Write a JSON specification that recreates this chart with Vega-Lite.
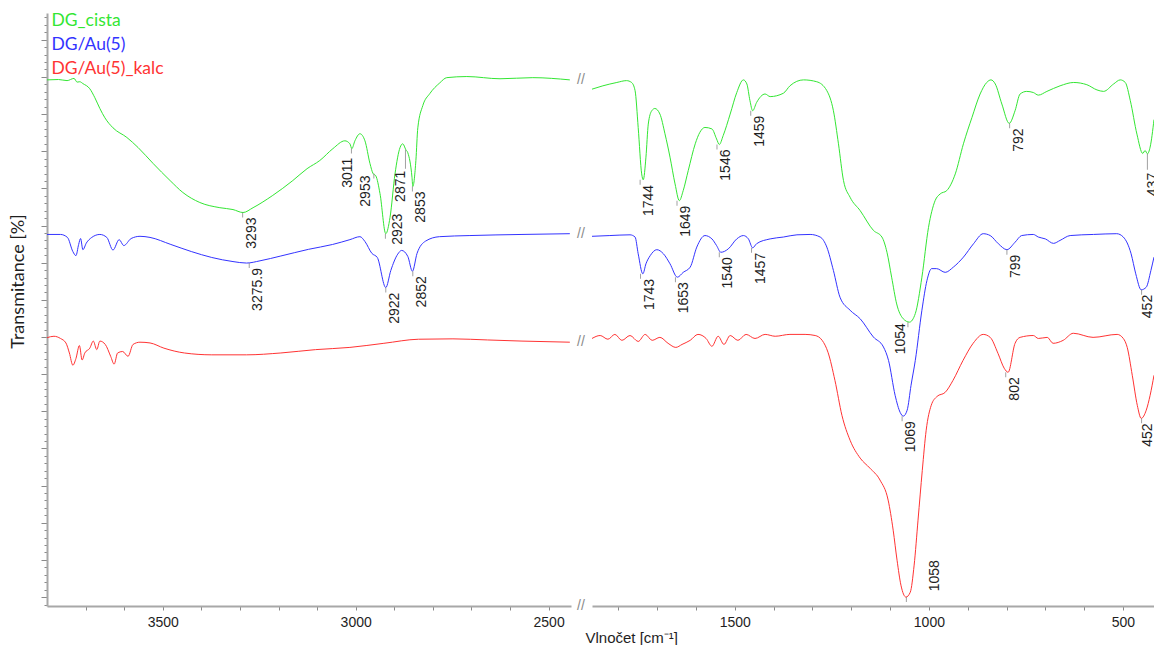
{
  "$schema": "https://vega.github.io/schema/vega-lite/v6.json",
  "background": "white",
  "padding": {"left": 9, "top": 12, "right": 0, "bottom": 0},
  "spacing": 21,
  "bounds": "flush",
  "config": {
    "view": {"stroke": null},
    "axis": {"grid": false, "domainColor": "#a8a8a8", "domainWidth": 2, "tickColor": "#8a8a8a", "labelFont": "Liberation Sans", "labelFontSize": 14, "labelColor": "#1e1e1e", "titleFont": "Liberation Sans", "titleFontWeight": "normal", "titleColor": "#1e1e1e"}
  },
  "datasets": {
    "spectra": [
      {"series":"DG_cista","wn":3800,"T":139.2},{"series":"DG_cista","wn":3770,"T":139.3},{"series":"DG_cista","wn":3748,"T":139.0},{"series":"DG_cista","wn":3730,"T":139.6},{"series":"DG_cista","wn":3722,"T":138.6},{"series":"DG_cista","wn":3715,"T":138.7},{"series":"DG_cista","wn":3707,"T":138.2},{"series":"DG_cista","wn":3689,"T":136.8},{"series":"DG_cista","wn":3676,"T":134.4},{"series":"DG_cista","wn":3663,"T":131.5},{"series":"DG_cista","wn":3650,"T":129.0},{"series":"DG_cista","wn":3629,"T":126.3},{"series":"DG_cista","wn":3593,"T":123.7},{"series":"DG_cista","wn":3564,"T":121.0},{"series":"DG_cista","wn":3525,"T":116.7},{"series":"DG_cista","wn":3481,"T":112.1},{"series":"DG_cista","wn":3448,"T":108.9},{"series":"DG_cista","wn":3404,"T":106.2},{"series":"DG_cista","wn":3352,"T":104.8},{"series":"DG_cista","wn":3318,"T":104.3},{"series":"DG_cista","wn":3292,"T":103.5},{"series":"DG_cista","wn":3266,"T":104.8},{"series":"DG_cista","wn":3215,"T":108.1},{"series":"DG_cista","wn":3163,"T":112.1},{"series":"DG_cista","wn":3126,"T":115.3},{"series":"DG_cista","wn":3093,"T":117.5},{"series":"DG_cista","wn":3059,"T":120.7},{"series":"DG_cista","wn":3028,"T":122.8},{"series":"DG_cista","wn":3015,"T":122.0},{"series":"DG_cista","wn":3010,"T":120.7},{"series":"DG_cista","wn":3002,"T":122.8},{"series":"DG_cista","wn":2989,"T":124.7},{"series":"DG_cista","wn":2976,"T":122.8},{"series":"DG_cista","wn":2963,"T":116.7},{"series":"DG_cista","wn":2955,"T":114.0},{"series":"DG_cista","wn":2948,"T":113.4},{"series":"DG_cista","wn":2937,"T":108.6},{"series":"DG_cista","wn":2922,"T":97.8},{"series":"DG_cista","wn":2911,"T":102.2},{"series":"DG_cista","wn":2898,"T":114.0},{"series":"DG_cista","wn":2885,"T":121.0},{"series":"DG_cista","wn":2878,"T":122.0},{"series":"DG_cista","wn":2870,"T":120.4},{"series":"DG_cista","wn":2865,"T":119.6},{"series":"DG_cista","wn":2854,"T":112.9},{"series":"DG_cista","wn":2852,"T":110.5},{"series":"DG_cista","wn":2844,"T":117.5},{"series":"DG_cista","wn":2839,"T":126.3},{"series":"DG_cista","wn":2826,"T":132.3},{"series":"DG_cista","wn":2808,"T":135.5},{"series":"DG_cista","wn":2782,"T":138.4},{"series":"DG_cista","wn":2764,"T":139.8},{"series":"DG_cista","wn":2712,"T":140.1},{"series":"DG_cista","wn":2626,"T":139.5},{"series":"DG_cista","wn":2541,"T":139.8},{"series":"DG_cista","wn":2445,"T":139.2},
      {"series":"DG/Au(5)","wn":3800,"T":97.6},{"series":"DG/Au(5)","wn":3765,"T":97.6},{"series":"DG/Au(5)","wn":3747,"T":96.8},{"series":"DG/Au(5)","wn":3733,"T":93.0},{"series":"DG/Au(5)","wn":3725,"T":91.9},{"series":"DG/Au(5)","wn":3718,"T":94.9},{"series":"DG/Au(5)","wn":3713,"T":96.5},{"series":"DG/Au(5)","wn":3707,"T":93.5},{"series":"DG/Au(5)","wn":3698,"T":95.3},{"series":"DG/Au(5)","wn":3684,"T":96.8},{"series":"DG/Au(5)","wn":3663,"T":97.6},{"series":"DG/Au(5)","wn":3645,"T":96.8},{"series":"DG/Au(5)","wn":3629,"T":93.4},{"series":"DG/Au(5)","wn":3613,"T":96.2},{"series":"DG/Au(5)","wn":3601,"T":94.6},{"series":"DG/Au(5)","wn":3582,"T":96.5},{"series":"DG/Au(5)","wn":3559,"T":97.1},{"series":"DG/Au(5)","wn":3533,"T":96.8},{"series":"DG/Au(5)","wn":3479,"T":94.9},{"series":"DG/Au(5)","wn":3426,"T":93.0},{"series":"DG/Au(5)","wn":3373,"T":91.4},{"series":"DG/Au(5)","wn":3318,"T":90.3},{"series":"DG/Au(5)","wn":3283,"T":89.9},{"series":"DG/Au(5)","wn":3248,"T":90.5},{"series":"DG/Au(5)","wn":3194,"T":91.8},{"series":"DG/Au(5)","wn":3122,"T":93.6},{"series":"DG/Au(5)","wn":3060,"T":94.9},{"series":"DG/Au(5)","wn":3015,"T":96.2},{"series":"DG/Au(5)","wn":2989,"T":97.0},{"series":"DG/Au(5)","wn":2976,"T":95.7},{"series":"DG/Au(5)","wn":2958,"T":92.5},{"series":"DG/Au(5)","wn":2944,"T":91.4},{"series":"DG/Au(5)","wn":2922,"T":83.3},{"series":"DG/Au(5)","wn":2909,"T":87.9},{"series":"DG/Au(5)","wn":2891,"T":92.3},{"series":"DG/Au(5)","wn":2881,"T":93.3},{"series":"DG/Au(5)","wn":2865,"T":91.7},{"series":"DG/Au(5)","wn":2853,"T":87.7},{"series":"DG/Au(5)","wn":2841,"T":92.5},{"series":"DG/Au(5)","wn":2819,"T":95.8},{"series":"DG/Au(5)","wn":2783,"T":97.0},{"series":"DG/Au(5)","wn":2704,"T":97.3},{"series":"DG/Au(5)","wn":2569,"T":97.6},{"series":"DG/Au(5)","wn":2445,"T":97.8},
      {"series":"DG/Au(5)_kalc","wn":3800,"T":69.8},{"series":"DG/Au(5)_kalc","wn":3782,"T":70.2},{"series":"DG/Au(5)_kalc","wn":3765,"T":69.6},{"series":"DG/Au(5)_kalc","wn":3751,"T":68.4},{"series":"DG/Au(5)_kalc","wn":3742,"T":65.7},{"series":"DG/Au(5)_kalc","wn":3733,"T":62.4},{"series":"DG/Au(5)_kalc","wn":3725,"T":64.2},{"series":"DG/Au(5)_kalc","wn":3716,"T":67.7},{"series":"DG/Au(5)_kalc","wn":3709,"T":63.8},{"series":"DG/Au(5)_kalc","wn":3702,"T":65.7},{"series":"DG/Au(5)_kalc","wn":3689,"T":67.0},{"series":"DG/Au(5)_kalc","wn":3680,"T":68.9},{"series":"DG/Au(5)_kalc","wn":3671,"T":66.6},{"series":"DG/Au(5)_kalc","wn":3663,"T":68.9},{"series":"DG/Au(5)_kalc","wn":3649,"T":68.0},{"series":"DG/Au(5)_kalc","wn":3635,"T":64.8},{"series":"DG/Au(5)_kalc","wn":3626,"T":62.7},{"series":"DG/Au(5)_kalc","wn":3617,"T":65.7},{"series":"DG/Au(5)_kalc","wn":3604,"T":66.1},{"series":"DG/Au(5)_kalc","wn":3590,"T":64.8},{"series":"DG/Au(5)_kalc","wn":3577,"T":68.0},{"series":"DG/Au(5)_kalc","wn":3559,"T":68.6},{"series":"DG/Au(5)_kalc","wn":3533,"T":68.4},{"series":"DG/Au(5)_kalc","wn":3497,"T":67.0},{"series":"DG/Au(5)_kalc","wn":3444,"T":65.7},{"series":"DG/Au(5)_kalc","wn":3373,"T":65.2},{"series":"DG/Au(5)_kalc","wn":3283,"T":65.2},{"series":"DG/Au(5)_kalc","wn":3194,"T":65.7},{"series":"DG/Au(5)_kalc","wn":3104,"T":66.6},{"series":"DG/Au(5)_kalc","wn":3015,"T":67.2},{"series":"DG/Au(5)_kalc","wn":2927,"T":68.3},{"series":"DG/Au(5)_kalc","wn":2837,"T":69.4},{"series":"DG/Au(5)_kalc","wn":2748,"T":69.5},{"series":"DG/Au(5)_kalc","wn":2658,"T":69.2},{"series":"DG/Au(5)_kalc","wn":2569,"T":68.9},{"series":"DG/Au(5)_kalc","wn":2445,"T":68.6},
      {"series":"DG_cista","wn":1868,"T":136.7},{"series":"DG_cista","wn":1840,"T":137.6},{"series":"DG_cista","wn":1804,"T":138.5},{"series":"DG_cista","wn":1779,"T":139.0},{"series":"DG_cista","wn":1766,"T":138.5},{"series":"DG_cista","wn":1757,"T":136.3},{"series":"DG_cista","wn":1749,"T":126.4},{"series":"DG_cista","wn":1740,"T":113.9},{"series":"DG_cista","wn":1736,"T":112.3},{"series":"DG_cista","wn":1729,"T":118.4},{"series":"DG_cista","wn":1723,"T":127.3},{"series":"DG_cista","wn":1714,"T":130.9},{"series":"DG_cista","wn":1706,"T":131.5},{"series":"DG_cista","wn":1693,"T":130.0},{"series":"DG_cista","wn":1680,"T":124.7},{"series":"DG_cista","wn":1667,"T":118.4},{"series":"DG_cista","wn":1654,"T":111.2},{"series":"DG_cista","wn":1643,"T":106.7},{"series":"DG_cista","wn":1633,"T":109.4},{"series":"DG_cista","wn":1620,"T":114.8},{"series":"DG_cista","wn":1602,"T":122.0},{"series":"DG_cista","wn":1590,"T":125.1},{"series":"DG_cista","wn":1577,"T":126.4},{"series":"DG_cista","wn":1559,"T":126.0},{"series":"DG_cista","wn":1547,"T":123.3},{"series":"DG_cista","wn":1540,"T":121.8},{"series":"DG_cista","wn":1530,"T":124.2},{"series":"DG_cista","wn":1512,"T":130.0},{"series":"DG_cista","wn":1495,"T":135.8},{"series":"DG_cista","wn":1478,"T":139.2},{"series":"DG_cista","wn":1469,"T":138.1},{"series":"DG_cista","wn":1461,"T":133.6},{"series":"DG_cista","wn":1454,"T":130.9},{"series":"DG_cista","wn":1444,"T":133.1},{"series":"DG_cista","wn":1422,"T":135.4},{"series":"DG_cista","wn":1409,"T":134.7},{"series":"DG_cista","wn":1375,"T":135.6},{"series":"DG_cista","wn":1358,"T":137.6},{"series":"DG_cista","wn":1323,"T":139.2},{"series":"DG_cista","wn":1289,"T":138.7},{"series":"DG_cista","wn":1263,"T":136.3},{"series":"DG_cista","wn":1246,"T":130.9},{"series":"DG_cista","wn":1233,"T":122.0},{"series":"DG_cista","wn":1220,"T":112.1},{"series":"DG_cista","wn":1203,"T":107.6},{"series":"DG_cista","wn":1177,"T":104.0},{"series":"DG_cista","wn":1143,"T":98.7},{"series":"DG_cista","wn":1121,"T":96.9},{"series":"DG_cista","wn":1108,"T":92.8},{"series":"DG_cista","wn":1096,"T":86.1},{"series":"DG_cista","wn":1083,"T":78.9},{"series":"DG_cista","wn":1066,"T":74.9},{"series":"DG_cista","wn":1050,"T":74.0},{"series":"DG_cista","wn":1035,"T":76.3},{"series":"DG_cista","wn":1018,"T":86.1},{"series":"DG_cista","wn":1001,"T":99.5},{"series":"DG_cista","wn":984,"T":106.7},{"series":"DG_cista","wn":971,"T":108.5},{"series":"DG_cista","wn":954,"T":109.4},{"series":"DG_cista","wn":932,"T":113.9},{"series":"DG_cista","wn":911,"T":122.0},{"series":"DG_cista","wn":889,"T":129.1},{"series":"DG_cista","wn":868,"T":135.4},{"series":"DG_cista","wn":851,"T":138.5},{"series":"DG_cista","wn":840,"T":139.2},{"series":"DG_cista","wn":829,"T":138.1},{"series":"DG_cista","wn":812,"T":132.7},{"series":"DG_cista","wn":793,"T":127.5},{"series":"DG_cista","wn":778,"T":130.9},{"series":"DG_cista","wn":765,"T":135.4},{"series":"DG_cista","wn":748,"T":136.1},{"series":"DG_cista","wn":731,"T":135.8},{"series":"DG_cista","wn":718,"T":135.1},{"series":"DG_cista","wn":696,"T":136.1},{"series":"DG_cista","wn":662,"T":137.6},{"series":"DG_cista","wn":627,"T":138.5},{"series":"DG_cista","wn":593,"T":137.9},{"series":"DG_cista","wn":567,"T":136.5},{"series":"DG_cista","wn":550,"T":136.1},{"series":"DG_cista","wn":524,"T":138.1},{"series":"DG_cista","wn":507,"T":139.2},{"series":"DG_cista","wn":494,"T":138.5},{"series":"DG_cista","wn":481,"T":133.6},{"series":"DG_cista","wn":464,"T":124.6},{"series":"DG_cista","wn":449,"T":119.4},{"series":"DG_cista","wn":443,"T":120.2},{"series":"DG_cista","wn":437,"T":119.3},{"series":"DG_cista","wn":430,"T":121.1},{"series":"DG_cista","wn":420,"T":128.5},
      {"series":"DG/Au(5)","wn":1868,"T":97.1},{"series":"DG/Au(5)","wn":1822,"T":97.3},{"series":"DG/Au(5)","wn":1770,"T":97.5},{"series":"DG/Au(5)","wn":1757,"T":96.9},{"series":"DG/Au(5)","wn":1749,"T":92.4},{"series":"DG/Au(5)","wn":1737,"T":87.0},{"series":"DG/Au(5)","wn":1729,"T":89.7},{"series":"DG/Au(5)","wn":1718,"T":91.9},{"series":"DG/Au(5)","wn":1701,"T":93.5},{"series":"DG/Au(5)","wn":1684,"T":92.4},{"series":"DG/Au(5)","wn":1667,"T":89.7},{"series":"DG/Au(5)","wn":1648,"T":86.1},{"series":"DG/Au(5)","wn":1633,"T":87.4},{"series":"DG/Au(5)","wn":1615,"T":88.8},{"series":"DG/Au(5)","wn":1598,"T":94.2},{"series":"DG/Au(5)","wn":1577,"T":97.3},{"series":"DG/Au(5)","wn":1559,"T":96.4},{"series":"DG/Au(5)","wn":1547,"T":94.6},{"series":"DG/Au(5)","wn":1536,"T":92.8},{"series":"DG/Au(5)","wn":1517,"T":93.7},{"series":"DG/Au(5)","wn":1495,"T":96.4},{"series":"DG/Au(5)","wn":1478,"T":97.3},{"series":"DG/Au(5)","wn":1465,"T":96.4},{"series":"DG/Au(5)","wn":1454,"T":94.0},{"series":"DG/Au(5)","wn":1444,"T":95.1},{"series":"DG/Au(5)","wn":1409,"T":96.4},{"series":"DG/Au(5)","wn":1375,"T":96.9},{"series":"DG/Au(5)","wn":1340,"T":97.5},{"series":"DG/Au(5)","wn":1306,"T":97.6},{"series":"DG/Au(5)","wn":1280,"T":96.9},{"series":"DG/Au(5)","wn":1263,"T":94.2},{"series":"DG/Au(5)","wn":1246,"T":87.9},{"series":"DG/Au(5)","wn":1229,"T":80.7},{"series":"DG/Au(5)","wn":1203,"T":77.2},{"series":"DG/Au(5)","wn":1177,"T":74.9},{"series":"DG/Au(5)","wn":1143,"T":70.0},{"series":"DG/Au(5)","wn":1117,"T":67.3},{"series":"DG/Au(5)","wn":1104,"T":63.7},{"series":"DG/Au(5)","wn":1087,"T":54.3},{"series":"DG/Au(5)","wn":1074,"T":49.7},{"series":"DG/Au(5)","wn":1066,"T":48.7},{"series":"DG/Au(5)","wn":1056,"T":50.3},{"series":"DG/Au(5)","wn":1046,"T":57.0},{"series":"DG/Au(5)","wn":1035,"T":63.7},{"series":"DG/Au(5)","wn":1018,"T":77.2},{"series":"DG/Au(5)","wn":1005,"T":85.2},{"series":"DG/Au(5)","wn":993,"T":88.4},{"series":"DG/Au(5)","wn":980,"T":88.4},{"series":"DG/Au(5)","wn":958,"T":87.4},{"series":"DG/Au(5)","wn":937,"T":88.8},{"series":"DG/Au(5)","wn":911,"T":91.5},{"series":"DG/Au(5)","wn":885,"T":95.1},{"series":"DG/Au(5)","wn":860,"T":97.8},{"series":"DG/Au(5)","wn":842,"T":97.3},{"series":"DG/Au(5)","wn":821,"T":95.1},{"series":"DG/Au(5)","wn":799,"T":93.5},{"series":"DG/Au(5)","wn":778,"T":95.5},{"series":"DG/Au(5)","wn":761,"T":97.3},{"series":"DG/Au(5)","wn":731,"T":97.6},{"series":"DG/Au(5)","wn":718,"T":96.9},{"series":"DG/Au(5)","wn":700,"T":96.4},{"series":"DG/Au(5)","wn":679,"T":95.2},{"series":"DG/Au(5)","wn":662,"T":96.0},{"series":"DG/Au(5)","wn":636,"T":97.3},{"series":"DG/Au(5)","wn":576,"T":97.6},{"series":"DG/Au(5)","wn":516,"T":97.8},{"series":"DG/Au(5)","wn":499,"T":96.9},{"series":"DG/Au(5)","wn":479,"T":92.4},{"series":"DG/Au(5)","wn":467,"T":87.0},{"series":"DG/Au(5)","wn":453,"T":82.7},{"series":"DG/Au(5)","wn":440,"T":83.4},{"series":"DG/Au(5)","wn":428,"T":87.9},{"series":"DG/Au(5)","wn":420,"T":91.5},
      {"series":"DG/Au(5)_kalc","wn":1868,"T":69.6},{"series":"DG/Au(5)_kalc","wn":1847,"T":70.4},{"series":"DG/Au(5)_kalc","wn":1827,"T":69.4},{"series":"DG/Au(5)_kalc","wn":1809,"T":70.7},{"series":"DG/Au(5)_kalc","wn":1791,"T":69.1},{"series":"DG/Au(5)_kalc","wn":1770,"T":70.4},{"series":"DG/Au(5)_kalc","wn":1749,"T":68.8},{"series":"DG/Au(5)_kalc","wn":1731,"T":70.7},{"series":"DG/Au(5)_kalc","wn":1713,"T":69.1},{"series":"DG/Au(5)_kalc","wn":1693,"T":69.9},{"series":"DG/Au(5)_kalc","wn":1672,"T":68.3},{"series":"DG/Au(5)_kalc","wn":1652,"T":67.2},{"series":"DG/Au(5)_kalc","wn":1636,"T":68.0},{"series":"DG/Au(5)_kalc","wn":1615,"T":69.1},{"series":"DG/Au(5)_kalc","wn":1595,"T":70.7},{"series":"DG/Au(5)_kalc","wn":1574,"T":69.6},{"series":"DG/Au(5)_kalc","wn":1559,"T":67.5},{"series":"DG/Au(5)_kalc","wn":1543,"T":70.2},{"series":"DG/Au(5)_kalc","wn":1528,"T":68.0},{"series":"DG/Au(5)_kalc","wn":1512,"T":70.4},{"series":"DG/Au(5)_kalc","wn":1492,"T":69.1},{"series":"DG/Au(5)_kalc","wn":1471,"T":70.7},{"series":"DG/Au(5)_kalc","wn":1448,"T":69.6},{"series":"DG/Au(5)_kalc","wn":1422,"T":70.7},{"series":"DG/Au(5)_kalc","wn":1396,"T":70.2},{"series":"DG/Au(5)_kalc","wn":1358,"T":70.7},{"series":"DG/Au(5)_kalc","wn":1319,"T":70.7},{"series":"DG/Au(5)_kalc","wn":1293,"T":70.4},{"series":"DG/Au(5)_kalc","wn":1275,"T":69.1},{"series":"DG/Au(5)_kalc","wn":1260,"T":65.9},{"series":"DG/Au(5)_kalc","wn":1242,"T":58.3},{"series":"DG/Au(5)_kalc","wn":1224,"T":48.9},{"series":"DG/Au(5)_kalc","wn":1203,"T":42.2},{"series":"DG/Au(5)_kalc","wn":1177,"T":37.4},{"series":"DG/Au(5)_kalc","wn":1152,"T":34.7},{"series":"DG/Au(5)_kalc","wn":1126,"T":31.5},{"series":"DG/Au(5)_kalc","wn":1105,"T":26.1},{"series":"DG/Au(5)_kalc","wn":1092,"T":18.0},{"series":"DG/Au(5)_kalc","wn":1082,"T":9.9},{"series":"DG/Au(5)_kalc","wn":1072,"T":3.2},{"series":"DG/Au(5)_kalc","wn":1059,"T":0.0},{"series":"DG/Au(5)_kalc","wn":1048,"T":1.3},{"series":"DG/Au(5)_kalc","wn":1038,"T":8.6},{"series":"DG/Au(5)_kalc","wn":1028,"T":20.7},{"series":"DG/Au(5)_kalc","wn":1017,"T":34.1},{"series":"DG/Au(5)_kalc","wn":1007,"T":44.9},{"series":"DG/Au(5)_kalc","wn":994,"T":51.6},{"series":"DG/Au(5)_kalc","wn":979,"T":54.0},{"series":"DG/Au(5)_kalc","wn":958,"T":55.1},{"series":"DG/Au(5)_kalc","wn":938,"T":58.3},{"series":"DG/Au(5)_kalc","wn":912,"T":63.7},{"series":"DG/Au(5)_kalc","wn":886,"T":68.3},{"series":"DG/Au(5)_kalc","wn":860,"T":70.7},{"series":"DG/Au(5)_kalc","wn":842,"T":69.9},{"series":"DG/Au(5)_kalc","wn":822,"T":65.6},{"series":"DG/Au(5)_kalc","wn":806,"T":61.6},{"series":"DG/Au(5)_kalc","wn":796,"T":60.5},{"series":"DG/Au(5)_kalc","wn":778,"T":68.3},{"series":"DG/Au(5)_kalc","wn":765,"T":69.9},{"series":"DG/Au(5)_kalc","wn":731,"T":70.4},{"series":"DG/Au(5)_kalc","wn":718,"T":69.6},{"series":"DG/Au(5)_kalc","wn":695,"T":69.9},{"series":"DG/Au(5)_kalc","wn":680,"T":68.3},{"series":"DG/Au(5)_kalc","wn":654,"T":69.1},{"series":"DG/Au(5)_kalc","wn":628,"T":71.0},{"series":"DG/Au(5)_kalc","wn":577,"T":69.9},{"series":"DG/Au(5)_kalc","wn":515,"T":70.7},{"series":"DG/Au(5)_kalc","wn":499,"T":69.6},{"series":"DG/Au(5)_kalc","wn":489,"T":67.2},{"series":"DG/Au(5)_kalc","wn":476,"T":59.7},{"series":"DG/Au(5)_kalc","wn":463,"T":51.6},{"series":"DG/Au(5)_kalc","wn":453,"T":48.1},{"series":"DG/Au(5)_kalc","wn":440,"T":50.3},{"series":"DG/Au(5)_kalc","wn":430,"T":54.3},{"series":"DG/Au(5)_kalc","wn":420,"T":59.7}
    ],
    "peaks": [
      {"series":"DG_cista","label":"3293","wn":3293,"T":103.5},
      {"series":"DG_cista","label":"3011","wn":3011,"T":120.7},
      {"series":"DG_cista","label":"2953","wn":2953,"T":114.0},
      {"series":"DG_cista","label":"2923","wn":2923,"T":97.8},
      {"series":"DG_cista","label":"2871","wn":2871,"T":120.4},
      {"series":"DG_cista","label":"2853","wn":2853,"T":110.5},
      {"series":"DG/Au(5)","label":"3275.9","wn":3275.9,"T":89.9},
      {"series":"DG/Au(5)","label":"2922","wn":2922,"T":83.3},
      {"series":"DG/Au(5)","label":"2852","wn":2852,"T":87.7},
      {"series":"DG_cista","label":"1744","wn":1744,"T":112.3},
      {"series":"DG_cista","label":"1649","wn":1649,"T":106.7},
      {"series":"DG_cista","label":"1546","wn":1546,"T":121.8},
      {"series":"DG_cista","label":"1459","wn":1459,"T":130.9},
      {"series":"DG_cista","label":"1054","wn":1054,"T":74.0},
      {"series":"DG_cista","label":"792","wn":792,"T":127.5},
      {"series":"DG_cista","label":"437","wn":437,"T":119.3},
      {"series":"DG/Au(5)","label":"1743","wn":1743,"T":87.0},
      {"series":"DG/Au(5)","label":"1653","wn":1653,"T":86.1},
      {"series":"DG/Au(5)","label":"1540","wn":1540,"T":92.8},
      {"series":"DG/Au(5)","label":"1457","wn":1457,"T":94.0},
      {"series":"DG/Au(5)","label":"1069","wn":1069,"T":48.7},
      {"series":"DG/Au(5)","label":"799","wn":799,"T":93.5},
      {"series":"DG/Au(5)","label":"452","wn":452,"T":82.7},
      {"series":"DG/Au(5)_kalc","label":"1058","wn":1058,"T":0.0},
      {"series":"DG/Au(5)_kalc","label":"802","wn":802,"T":60.5},
      {"series":"DG/Au(5)_kalc","label":"452","wn":452,"T":48.1}
    ],
    "breaks": [
      {"series":"DG_cista","T":139.2},
      {"series":"DG/Au(5)","T":97.8},
      {"series":"DG/Au(5)_kalc","T":68.6}
    ]
  },
  "resolve": {"scale": {"color": "shared", "y": "shared"}, "legend": {"color": "shared"}},
  "hconcat": [
    {
      "width": 524,
      "height": 593,
      "layer": [
        {
          "data": {"name": "spectra"},
          "transform": [{"filter": "datum.wn > 2000"}],
          "mark": {"type": "line", "strokeWidth": 1, "interpolate": "monotone"},
          "encoding": {
            "x": {"field": "wn", "type": "quantitative", "scale": {"domain": [3800, 2442], "nice": false, "zero": false},
              "axis": {"values": [3700,3600,3500,3400,3300,3200,3100,3000,2900,2800,2700,2600,2500], "format": "d", "labelExpr": "datum.value % 500 === 0 ? datum.label : ''", "tickSize": 4, "labelPadding": 5, "title": null}},
            "y": {"field": "T", "type": "quantitative", "scale": {"domain": [-2.4, 157.2], "nice": false, "zero": false},
              "axis": {"labels": false, "tickCount": 80, "tickSize": {"condition": {"test": "datum.value % 10 === 0", "value": 6}, "value": 3}, "title": "Transmitance [%]", "titleFont": "Lato", "titleFontSize": 18, "titleX": -29, "titleY": 268, "titleAngle": 270, "titleAlign": "center", "titleBaseline": "middle"}},
            "color": {"field": "series", "type": "nominal",
              "scale": {"domain": ["DG_cista", "DG/Au(5)", "DG/Au(5)_kalc"], "range": ["#33e633", "#3333ff", "#ff3333"]},
              "legend": {"orient": "none", "legendX": -13, "legendY": -1, "title": null, "symbolSize": 0, "symbolOpacity": 0, "symbolStrokeWidth": 0, "labelOffset": 0, "labelFont": "Lato", "labelFontSize": 17.5, "rowPadding": 5,
                "encode": {"labels": {"update": {"fill": {"scale": "color", "field": "value"}}}}}}
          }
        },
        {
          "data": {"name": "peaks"},
          "transform": [{"filter": "datum.wn > 2000"}],
          "mark": {"type": "tick", "orient": "vertical", "size": {"expr": "datum.label == '2871' ? 19 : 5"}, "thickness": 1, "color": "#777777", "yOffset": {"expr": "datum.label == '2871' ? 9.5 : 2.5"}},
          "encoding": {"x": {"field": "wn", "type": "quantitative"}, "y": {"field": "T", "type": "quantitative"}}
        },
        {
          "data": {"name": "peaks"},
          "transform": [{"filter": "datum.wn > 2000"}],
          "mark": {"type": "text", "font": "Liberation Sans", "fontSize": 14, "color": "#1e1e1e", "angle": 270, "align": "right", "baseline": "middle",
            "dx": {"expr": "datum.label == '3011' ? -9 : datum.label == '2953' ? -2 : datum.label == '2923' ? 20 : datum.label == '2871' ? -21 : -5"},
            "dy": {"expr": "datum.label == '3011' ? -3 : datum.label == '2953' ? -8 : datum.label == '2923' ? 13 : datum.label == '2871' ? -4 : 9"}},
          "encoding": {"x": {"field": "wn", "type": "quantitative"}, "y": {"field": "T", "type": "quantitative"}, "text": {"field": "label"}}
        },
        {
          "data": {"name": "breaks"},
          "mark": {"type": "text", "text": "//", "font": "Liberation Sans", "fontSize": 14, "color": "#8a8a8a", "dx": 10, "align": "center", "baseline": "middle"},
          "encoding": {"x": {"value": "width"}, "y": {"field": "T", "type": "quantitative"}}
        },
        {
          "data": {"values": [{}]},
          "mark": {"type": "text", "text": "//", "font": "Liberation Sans", "fontSize": 14, "color": "#8a8a8a", "dx": 10, "align": "center", "baseline": "middle"},
          "encoding": {"x": {"value": "width"}, "y": {"value": "height"}}
        }
      ]
    },
    {
      "width": 562,
      "height": 593,
      "layer": [
        {
          "data": {"name": "spectra"},
          "transform": [{"filter": "datum.wn < 2000"}],
          "mark": {"type": "line", "strokeWidth": 1, "interpolate": "monotone"},
          "encoding": {
            "x": {"field": "wn", "type": "quantitative", "scale": {"domain": [1868, 420], "nice": false, "zero": false},
              "axis": {"values": [1800,1700,1600,1500,1400,1300,1200,1100,1000,900,800,700,600,500], "format": "d", "labelExpr": "datum.value % 500 === 0 ? datum.label : ''", "tickSize": 4, "labelPadding": 5,
                "title": "Vlnočet [cm⁻¹]", "titleFontSize": 15, "titleAlign": "left", "titleX": -7, "titleY": 31, "titleBaseline": "middle"}},
            "y": {"field": "T", "type": "quantitative", "scale": {"domain": [-2.4, 157.2], "nice": false, "zero": false}, "axis": null},
            "color": {"field": "series", "type": "nominal"}
          }
        },
        {
          "data": {"name": "peaks"},
          "transform": [{"filter": "datum.wn < 2000"}],
          "mark": {"type": "tick", "orient": "vertical", "size": {"expr": "datum.label == '437' ? 16 : 5"}, "thickness": 1, "color": "#777777", "yOffset": {"expr": "datum.label == '437' ? 8 : 2.5"}},
          "encoding": {"x": {"field": "wn", "type": "quantitative"}, "y": {"field": "T", "type": "quantitative"}}
        },
        {
          "data": {"name": "peaks"},
          "transform": [{"filter": "datum.wn < 2000"}],
          "mark": {"type": "text", "clip": true, "font": "Liberation Sans", "fontSize": 14, "color": "#1e1e1e", "angle": 270, "align": "right", "baseline": "middle",
            "dx": {"expr": "datum.label == '1054' ? -1 : datum.label == '437' ? -19 : datum.label == '1058' ? 37 : -5"},
            "dy": {"expr": "datum.label == '1054' ? -7 : datum.label == '437' ? 6 : datum.label == '1058' ? 29 : datum.label == '452' ? 6.5 : 9"}},
          "encoding": {"x": {"field": "wn", "type": "quantitative"}, "y": {"field": "T", "type": "quantitative"}, "text": {"field": "label"}}
        }
      ]
    }
  ]
}
